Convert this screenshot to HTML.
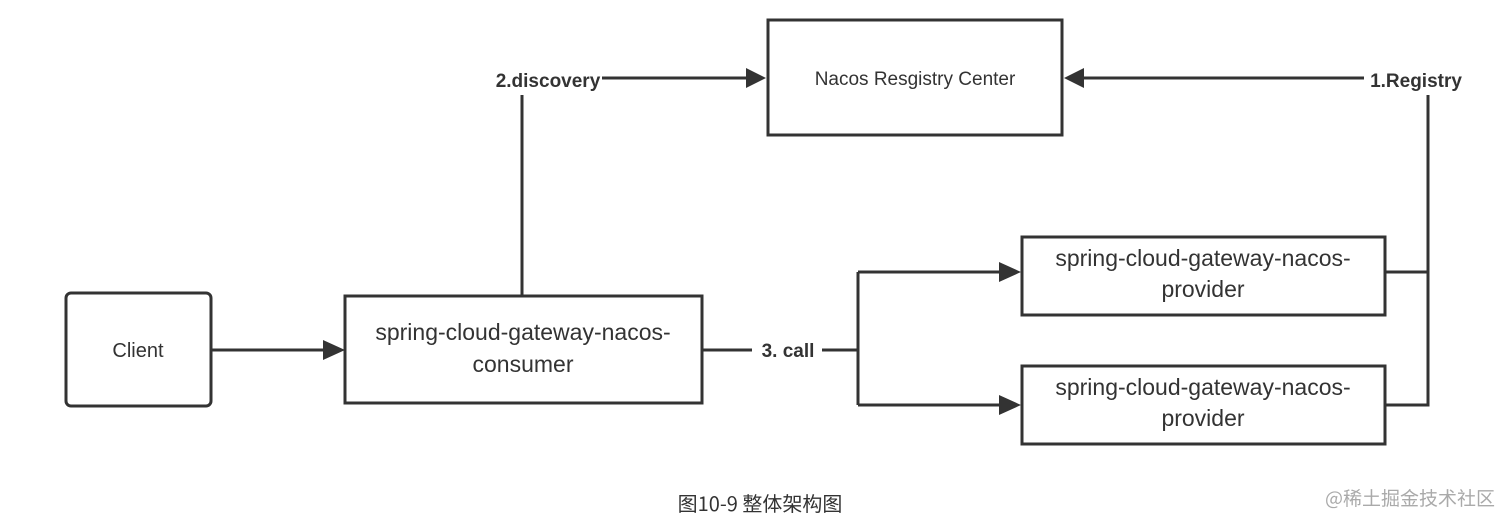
<!DOCTYPE html>
<html><head><meta charset="utf-8"><style>
html,body{margin:0;padding:0;background:#fff;width:1512px;height:529px;overflow:hidden}
svg text{font-family:"Liberation Sans Narrow","Liberation Sans","Noto Sans CJK SC",sans-serif;fill:#333}
</style></head><body>
<svg width="1512" height="529" viewBox="0 0 1512 529" xmlns="http://www.w3.org/2000/svg">
<g fill="none" stroke="#333" stroke-width="3">
<rect x="768" y="20" width="294" height="115"/>
<rect x="66" y="293" width="145" height="113" rx="5"/>
<rect x="345" y="296" width="357" height="107"/>
<rect x="1022" y="237" width="363" height="78"/>
<rect x="1022" y="366" width="363" height="78"/>
<path d="M602 78H748"/>
<path d="M522 95V296"/>
<path d="M1364 78H1082"/>
<path d="M1428 95V405H1385M1428 272H1385"/>
<path d="M211 350H325"/>
<path d="M702 350H752M822 350H858M858 272V405M858 272H1002M858 405H1002"/>
</g>
<g fill="#333">
<path d="M766 78l-20-10v20z"/>
<path d="M1064 78l20-10v20z"/>
<path d="M345 350l-22-10v20z"/>
<path d="M1021 272l-22-10v20z"/>
<path d="M1021 405l-22-10v20z"/>
</g>
<text x="548" y="87" font-size="19" font-weight="bold" text-anchor="middle">2.discovery</text>
<text x="1416" y="87" font-size="19" font-weight="bold" text-anchor="middle">1.Registry</text>
<text x="788" y="357" font-size="19" font-weight="bold" text-anchor="middle">3. call</text>
<text x="915" y="85" font-size="19" text-anchor="middle">Nacos Resgistry Center</text>
<text x="138" y="357" font-size="20" text-anchor="middle">Client</text>
<text x="523" y="340" font-size="23" text-anchor="middle">spring-cloud-gateway-nacos-</text>
<text x="523" y="372" font-size="23" text-anchor="middle">consumer</text>
<text x="1203" y="266" font-size="23" text-anchor="middle">spring-cloud-gateway-nacos-</text>
<text x="1203" y="297" font-size="23" text-anchor="middle">provider</text>
<text x="1203" y="395" font-size="23" text-anchor="middle">spring-cloud-gateway-nacos-</text>
<text x="1203" y="426" font-size="23" text-anchor="middle">provider</text>
<text x="760" y="511" font-size="20" text-anchor="middle" style="font-family:'Noto Sans CJK SC',sans-serif">图10-9 整体架构图</text>
<text x="1495" y="505" font-size="19" text-anchor="end" style="font-family:'Noto Sans CJK SC',sans-serif;fill:#aaa">@稀土掘金技术社区</text>
</svg>
</body></html>
